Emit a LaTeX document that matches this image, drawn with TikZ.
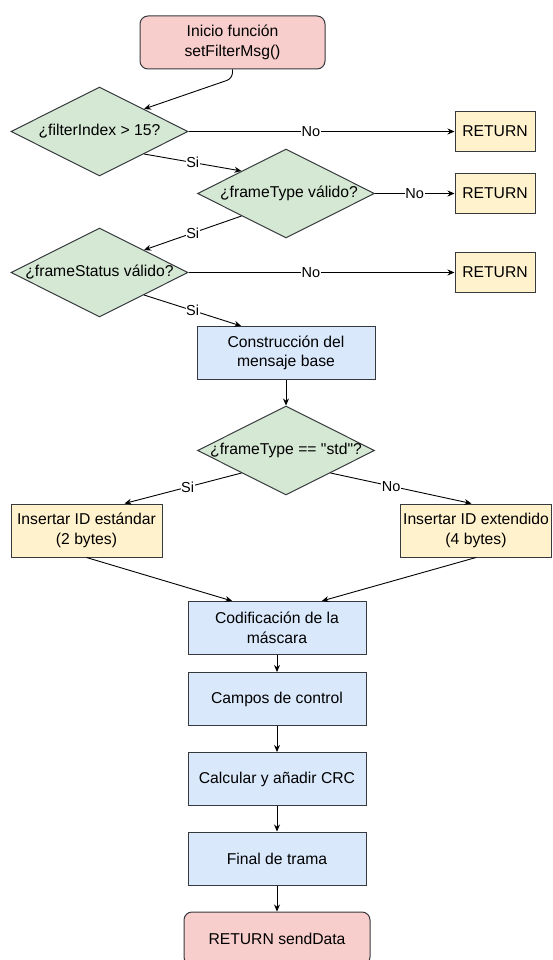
\documentclass[tikz,border=0pt]{standalone}
\usepackage{fontspec}
\setmainfont{Liberation Sans}[Ligatures=TeXOff]
\usetikzlibrary{shapes.geometric,arrows.meta,calc}
\definecolor{redfill}{HTML}{F8CECC}
\definecolor{greenfill}{HTML}{D5E8D4}
\definecolor{yellowfill}{HTML}{FFF2CC}
\definecolor{bluefill}{HTML}{DAE8FC}
\definecolor{edgegray}{HTML}{36393D}

\begin{document}
\begin{tikzpicture}[x=1pt,y=-1pt,
  base/.style={draw=edgegray, line width=1pt, font=\fontsize{15.7}{19.5}\selectfont,
    align=center, inner sep=0pt, text=black},
  terminal/.style={base, fill=redfill, rounded corners=8pt, minimum width=185pt, minimum height=53pt},
  decision/.style={base, diamond, fill=greenfill, minimum width=177pt, minimum height=89pt},
  dtext/.style={font=\fontsize{15.7}{19.5}\selectfont, text=black, inner sep=0pt},
  process/.style={base, rectangle, fill=bluefill, minimum width=178pt, minimum height=53pt},
  exitbox/.style={base, rectangle, fill=yellowfill, minimum width=80pt, minimum height=40pt},
  idbox/.style={base, rectangle, fill=yellowfill, minimum width=151pt, minimum height=53pt},
  flow/.style={draw=black, line width=0.9pt, -{Stealth[length=7pt,width=6pt]}},
  tag/.style={fill=white, inner sep=0.6pt, font=\fontsize{14.5}{16}\selectfont, text=black},
]
\useasboundingbox (0,0) rectangle (552,960);

% nodes
\node[terminal] (start) at (232.5,42.5) {Inicio función\\setFilterMsg()};
\node[decision, label={[dtext]center:¿filterIndex > 15?}] (d1) at (99.5,131.5) {};
\node[exitbox] (r1) at (495,131.5) {RETURN};
\node[decision, label={[dtext, xshift=3pt]center:¿frameType válido?}] (d2) at (286,193.5) {};
\node[exitbox] (r2) at (495,193.5) {RETURN};
\node[decision, label={[dtext]center:¿frameStatus válido?}] (d3) at (99.5,272.5) {};
\node[exitbox] (r3) at (495,272.5) {RETURN};
\node[process] (cons) at (286,353) {Construcción del\\mensaje base};
\node[decision, label={[dtext]center:¿frameType == "std"?}] (d4) at (286,450.5) {};
\node[idbox] (std) at (86.5,530.5) {Insertar ID estándar\\(2 bytes)};
\node[idbox] (ext) at (476,530.5) {Insertar ID extendido\\(4 bytes)};
\node[process] (cod) at (277,628) {Codificación de la\\máscara};
\node[process] (campos) at (277,699) {Campos de control};
\node[process] (crc) at (277,779) {Calcular y añadir CRC};
\node[process] (fin) at (277,858.5) {Final de trama};
\node[terminal, minimum width=186pt] (stop) at (277,938.5) {RETURN sendData};

% connectors
\draw[flow, rounded corners=6pt] (start.south) -- ++(0,9) -- ($(d1.north)!0.5!(d1.east)$);
\draw[flow] (d1.east) -- node[tag, pos=0.46] (no1) {No} (r1.west);
\draw[flow] ($(d1.south)!0.5!(d1.east)$) -- node[tag] (si1) {Si} ($(d2.north)!0.5!(d2.west)$);
\draw[flow] (d2.east) -- node[tag] (no2) {No} (r2.west);
\draw[flow] ($(d2.south)!0.5!(d2.west)$) -- node[tag] (si2) {Si} ($(d3.north)!0.5!(d3.east)$);
\draw[flow] (d3.east) -- node[tag, pos=0.46] (no3) {No} (r3.west);
\draw[flow] ($(d3.south)!0.5!(d3.east)$) -- node[tag] (si3) {Si} ($(cons.north west)!0.25!(cons.north east)$);
\draw[flow] (cons.south) -- (d4.north);
\draw[flow] ($(d4.south)!0.5!(d4.west)$) -- node[tag, pos=0.46] (si4) {Si} ($(std.north west)!0.75!(std.north east)$);
\draw[flow] ($(d4.south)!0.5!(d4.east)$) -- node[tag, pos=0.43] (no4) {No} ($(ext.north west)!0.47!(ext.north east)$);
\draw[flow] (std.south) -- ($(cod.north west)!0.25!(cod.north east)$);
\draw[flow] (ext.south) -- ($(cod.north west)!0.75!(cod.north east)$);
\draw[flow] (cod.south) -- (campos.north);
\draw[flow] (campos.south) -- (crc.north);
\draw[flow] (crc.south) -- (fin.north);
\draw[flow] (fin.south) -- (stop.north);
\end{tikzpicture}
\end{document}
